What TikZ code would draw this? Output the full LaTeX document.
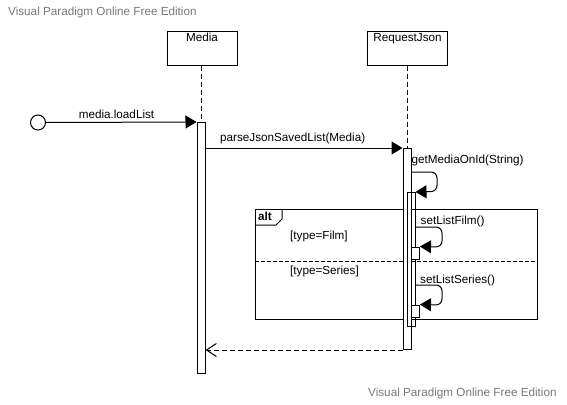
\documentclass[tikz,border=0pt]{standalone}
\usepackage{fontspec}
\setmainfont{Liberation Sans}
\usetikzlibrary{arrows.meta}
\definecolor{wm}{RGB}{120,120,120}
\tikzset{
  every node/.style={font=\fontsize{11.7pt}{13pt}\selectfont, inner sep=0pt},
  lifebox/.style={draw, line width=1pt, minimum width=#1, minimum height=34pt, anchor=north},
  act/.style={draw, fill=white, line width=1pt, minimum width=8pt, minimum height=#1, anchor=north},
  actnf/.style={draw, line width=1pt, minimum width=8pt, minimum height=#1, anchor=north},
  lifeline/.style={line width=1pt, dash pattern=on 5pt off 3pt},
  msg/.style={line width=1pt, -{Triangle[length=11pt,width=13pt]}},
  selfmsg/.style={line width=1pt, rounded corners=6pt, -{Triangle[length=11pt,width=13pt]}},
  retmsg/.style={line width=1pt, dash pattern=on 5pt off 3pt, -{Straight Barb[length=10pt,width=13pt]}},
  wmtext/.style={text=wm, anchor=west},
  lbl/.style={anchor=west},
}
\begin{document}
\begin{tikzpicture}[x=1pt,y=-1pt]
\useasboundingbox (0,0) rectangle (567,404);
% watermarks
\node[wmtext] (wm1) at (8,12.5) {Visual Paradigm Online Free Edition};
\node[wmtext] (wm2) at (368,393) {Visual Paradigm Online Free Edition};

% alt frame
\draw[line width=1pt] (255,209) rectangle (537,319);
\draw[line width=1pt] (255,225) -- (276,225) -- (282,219) -- (282,209);
\node[anchor=west, font=\fontsize{11.7pt}{13pt}\selectfont\bfseries] (alt) at (258,216.5) {alt};
\draw[line width=1pt, dash pattern=on 4pt off 2pt] (255,261) -- (537,261);
\node[lbl] (g1) at (290,236.5) {[type=Film]};
\node[lbl] (g2) at (290,271) {[type=Series]};

% lifeline boxes
\node[lifebox=70pt] (media) at (202,31) {};
\node[anchor=north] (medialbl) at ([yshift=-2pt]media.north) {Media};
\node[lifebox=80pt] (rj) at (407.5,31) {};
\node[anchor=north] (rjlbl) at ([yshift=-2pt]rj.north) {RequestJson};

% activations
\node[act=251pt] (mact) at (201,122) {};
\node[act=201pt] (ract) at (407,148) {};
\node[actnf=134pt] (ract2) at (411,192) {};
\node[act=12pt] (film) at (415.5,246.5) {};
\node[act=12pt] (series) at (415.5,304.5) {};

% lifelines
\draw[lifeline] (media.south -| mact.north) -- (mact.north);
\draw[lifeline] (rj.south -| ract.north) -- (ract.north);

% found message
\node[draw, circle, line width=1pt, minimum size=15pt] (start) at (38,122.5) {};
\draw[msg] (start.east) -- (mact.north west);
\node (l1) at (116.5,114) {media.loadList};

% parse message
\draw[msg] (mact.east |- 0,148) -- (ract.north west);
\node[lbl] (l2) at (220,138) {parseJsonSavedList(Media)};

% self messages
\coordinate (s1a) at (411,172);
\draw[selfmsg] (s1a) -- (437,172) -- (437,191.5) -- (ract2.north east);
\node[lbl] (l3) at (411.5,160) {getMediaOnId(String)};

\coordinate (s2a) at (415,227);
\draw[selfmsg] (s2a) -- (442,227) -- (442,247) -- (film.north east);
\node[lbl] (l4) at (420.5,221) {setListFilm()};

\coordinate (s3a) at (415,285);
\draw[selfmsg] (s3a) -- (442,285) -- (442,305) -- (series.north east);
\node[lbl] (l5) at (420,280) {setListSeries()};

% return
\draw[retmsg] (ract.south west) -- (mact.east |- ract.south);
\end{tikzpicture}
\end{document}
